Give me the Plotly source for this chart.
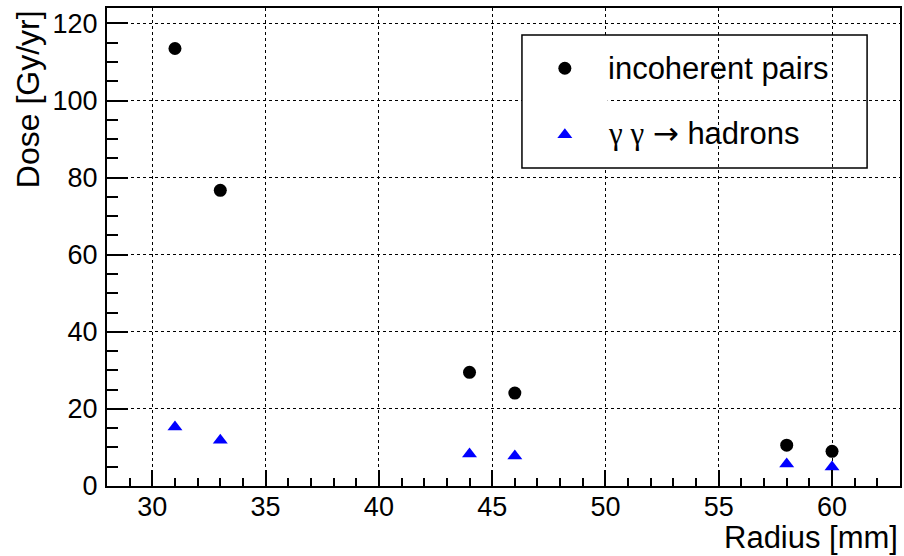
import plotly.graph_objects as go

radius = [31, 33, 44, 46, 58, 60]
dose_pairs = [113.5, 76.7, 29.5, 24.1, 10.6, 9.0]
dose_hadrons = [15.3, 11.9, 8.3, 7.8, 5.7, 4.9]
legend_labels = ["incoherent pairs",
                 "<span style='font-family:Liberation Serif'>γ γ</span> "
                 "<span style='font-family:DejaVu Sans'>→</span> hadrons"]

FONT = "Liberation Sans, Arial, Helvetica, sans-serif"

fig = go.Figure()
fig.add_trace(go.Scatter(x=radius, y=dose_pairs, mode="markers",
                         marker=dict(symbol="circle", size=13, color="black"),
                         showlegend=False))
fig.add_trace(go.Scatter(x=radius, y=dose_hadrons, mode="markers",
                         marker=dict(symbol="triangle-up", size=13, color="blue"),
                         showlegend=False))

# manual legend on hidden axes
fig.add_trace(go.Scatter(x=[0.5], y=[0.75], mode="markers", xaxis="x2", yaxis="y2",
                         marker=dict(symbol="circle", size=13, color="black"), showlegend=False))
fig.add_trace(go.Scatter(x=[0.5], y=[0.25], mode="markers", xaxis="x2", yaxis="y2",
                         marker=dict(symbol="triangle-up", size=13, color="blue"), showlegend=False))

W, H = 904, 556
L, R, T, B = 107, 2, 8, 70
pw, ph = W - L - R, H - T - B

def px(x):
    return (x - L) / pw

def py(y):
    return (H - B - y) / ph

axis_common = dict(
    showline=True, linecolor="black", linewidth=2, mirror=True,
    ticks="inside", tickcolor="black", tickwidth=2,
    showgrid=True, gridcolor="black", griddash="dot", gridwidth=1,
    zeroline=False,
    tickfont=dict(family=FONT, size=27, color="black"),
)

fig.update_layout(
    width=W, height=H,
    margin=dict(l=L, r=R, t=T, b=B),
    paper_bgcolor="white", plot_bgcolor="white",
    xaxis=dict(range=[28, 63], dtick=5, tick0=0, ticklen=16, ticklabelstandoff=-4,
               minor=dict(dtick=1, ticklen=8, tickwidth=2, tickcolor="black", ticks="inside", showgrid=False),
               **axis_common),
    yaxis=dict(range=[0, 124], dtick=20, tick0=0, ticklen=21, ticklabelstandoff=2,
               minor=dict(dtick=5, ticklen=11, tickwidth=2, tickcolor="black", ticks="inside", showgrid=False),
               **axis_common),
    xaxis2=dict(domain=[px(523), px(609)], range=[0, 1], visible=False, anchor="y2"),
    yaxis2=dict(domain=[py(168), py(35)], range=[0, 1], visible=False, anchor="x2"),
    shapes=[dict(type="rect", xref="paper", yref="paper",
                 x0=px(523), x1=px(869), y0=py(168), y1=py(35),
                 line=dict(color="black", width=1.5), fillcolor="rgba(0,0,0,0)")],
    annotations=[
        dict(text=legend_labels[0], x=px(607), y=py(68), xref="paper", yref="paper",
             xanchor="left", yanchor="middle", showarrow=False,
             font=dict(family=FONT, size=31, color="black")),
        dict(text=legend_labels[1], x=px(607), y=py(133), xref="paper", yref="paper",
             xanchor="left", yanchor="middle", showarrow=False,
             font=dict(family=FONT, size=31, color="black")),
        dict(text="Dose [Gy/yr]", x=px(28), y=1, xref="paper", yref="paper",
             xanchor="center", yanchor="top", textangle=-90, showarrow=False,
             font=dict(family=FONT, size=32, color="black")),
        dict(text="Radius [mm]", x=1, y=py(557), xref="paper", yref="paper",
             xanchor="right", yanchor="bottom", showarrow=False,
             font=dict(family=FONT, size=31, color="black")),
    ],
)

fig.write_html("out.html")
